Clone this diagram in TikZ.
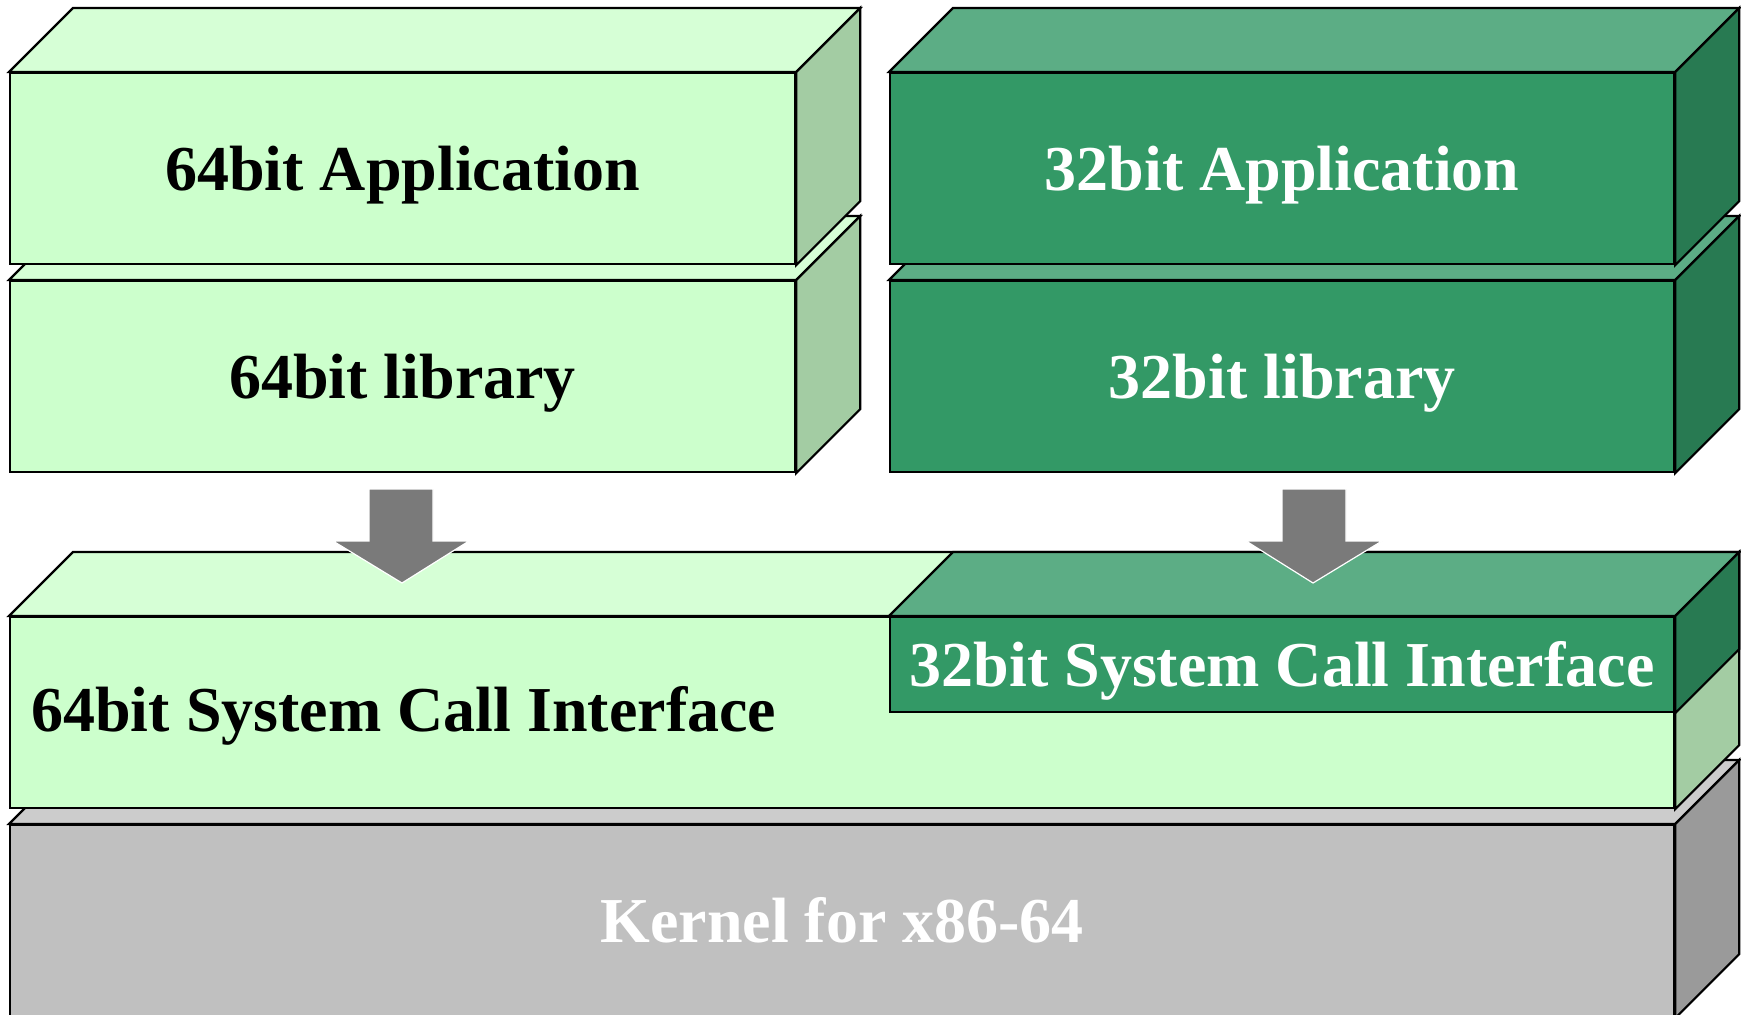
\documentclass[tikz,border=0pt]{standalone}
\usepackage{fontspec}
\setmainfont{Liberation Serif}
\definecolor{lgfront}{HTML}{CCFFCC}
\definecolor{lgtop}{HTML}{D6FFD6}
\definecolor{lgside}{HTML}{A3CCA3}
\definecolor{dgfront}{HTML}{339966}
\definecolor{dgtop}{HTML}{5CAD85}
\definecolor{dgside}{HTML}{287A52}
\definecolor{kfront}{HTML}{C0C0C0}
\definecolor{ktop}{HTML}{CCCCCC}
\definecolor{kside}{HTML}{9A9A9A}
\definecolor{arrowgray}{HTML}{7A7A7A}
\newcommand\boxfaces[3]{%
  \draw[face, fill=#2] (#1.north west) -- ++(64,-64) -- ([shift={(64,-64)}]#1.north east) -- (#1.north east) -- cycle;
  \draw[face, fill=#3] (#1.north east) -- ++(64,-64) -- ([shift={(64,-64)}]#1.south east) -- (#1.south east) -- cycle;
}
\tikzset{
  face/.style={draw=black, line width=1.1pt, line join=miter},
  boxfont/.style={font=\fontsize{32}{38}\selectfont\bfseries, text height=21.6pt, text depth=0pt},
  frontface/.style={face, rectangle, inner sep=0pt, anchor=north west, boxfont},
  lightbox/.style={frontface, fill=lgfront, text=black},
  darkbox/.style={frontface, fill=dgfront, text=white},
  kernelbox/.style={frontface, fill=kfront, text=white},
  blockarrow/.style={fill=arrowgray, draw=white, line width=0.6pt, line join=miter},
  labeltext/.style={inner sep=0pt, anchor=west, boxfont}
}
\begin{document}
\begin{tikzpicture}[x=0.5pt,y=-0.5pt]
\useasboundingbox (0,0) rectangle (1741,1014);
% kernel
\node[kernelbox, minimum width=832pt, minimum height=96pt] (kern) at (9,824) {Kernel for x86-64};
\boxfaces{kern}{ktop}{kside}
% 64bit system call interface
\node[lightbox, minimum width=832pt, minimum height=95.5pt] (sci64) at (9,616) {};
\boxfaces{sci64}{lgtop}{lgside}
\node[labeltext] (sci64t) at (31,710) {64bit System Call Interface};
% 32bit system call interface
\node[darkbox, minimum width=392pt, minimum height=47.5pt] (sci32) at (889,616) {32bit System Call Interface};
\boxfaces{sci32}{dgtop}{dgside}
% 64bit stack
\node[lightbox, minimum width=392.5pt, minimum height=95.5pt] (lib64) at (9,280) {64bit library};
\boxfaces{lib64}{lgtop}{lgside}
\node[lightbox, minimum width=392.5pt, minimum height=95.5pt] (app64) at (9,72) {64bit Application};
\boxfaces{app64}{lgtop}{lgside}
% 32bit stack
\node[darkbox, minimum width=392pt, minimum height=95.5pt] (lib32) at (889,280) {32bit library};
\boxfaces{lib32}{dgtop}{dgside}
\node[darkbox, minimum width=392pt, minimum height=95.5pt] (app32) at (889,72) {32bit Application};
\boxfaces{app32}{dgtop}{dgside}
% arrows
\draw[blockarrow] (369,489) -- (433,489) -- (433,541) -- (469,541) -- (402,583) -- (333,541) -- (369,541) -- cycle;
\draw[blockarrow] (1282,489) -- (1346,489) -- (1346,541) -- (1382,541) -- (1313,583) -- (1246,541) -- (1282,541) -- cycle;
\end{tikzpicture}
\end{document}
